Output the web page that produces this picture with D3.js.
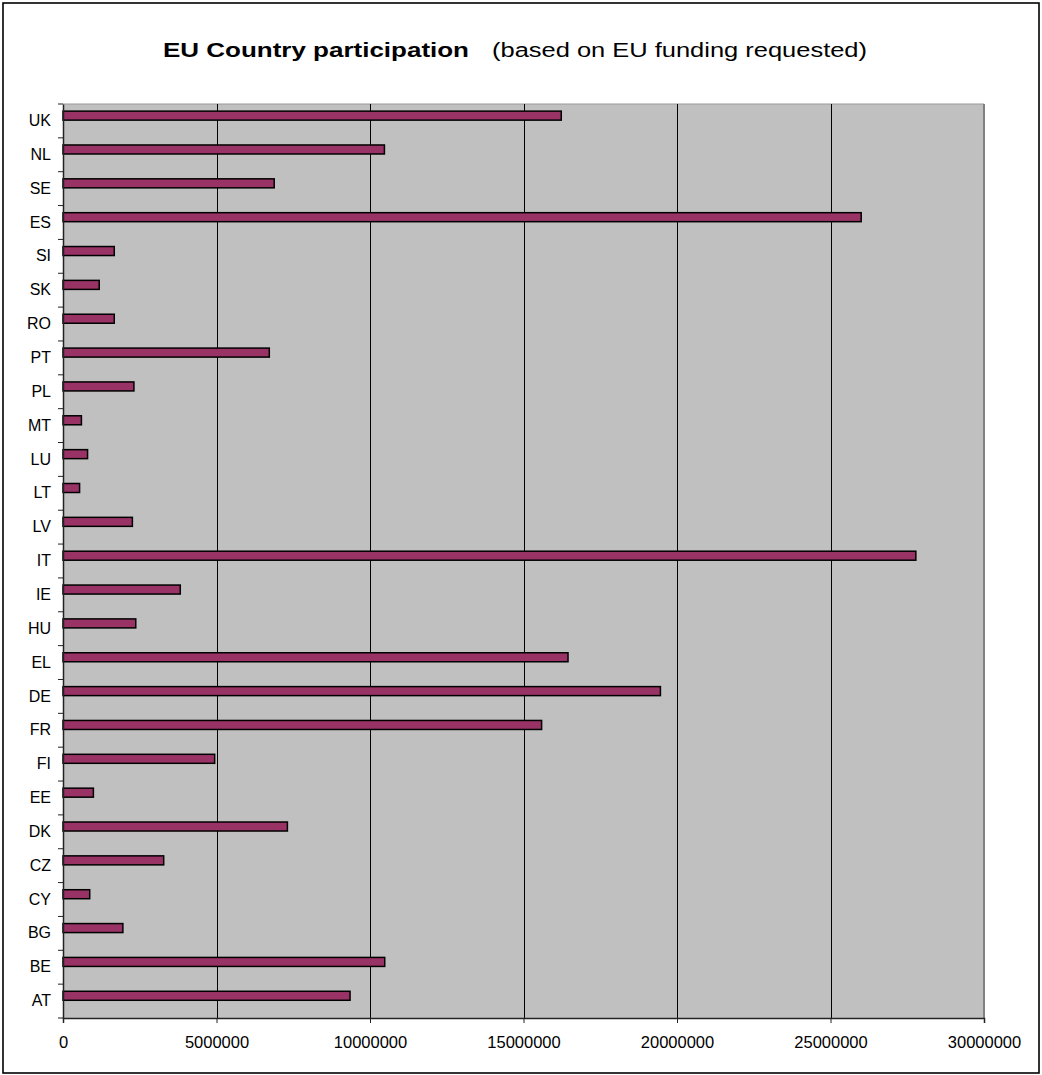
<!DOCTYPE html>
<html>
<head>
<meta charset="utf-8">
<script src="https://cdn.jsdelivr.net/npm/d3@7"></script>
<style>
  html, body { margin: 0; padding: 0; background: #fff; }
  svg { display: block; }
  text { font-family: Arial, "Liberation Sans", sans-serif; fill: #000; }
</style>
</head>
<body>
<svg id="chart" width="1042" height="1075"></svg>
<script>
// Categories listed bottom-to-top (as in the source spreadsheet)
const countries = ["AT","BE","BG","CY","CZ","DK","EE","FI","FR","DE","EL","HU","IE","IT","LV","LT","LU","MT","PL","PT","RO","SK","SI","ES","SE","NL","UK"];
const funding = [9350000,10480000,1950000,870000,3280000,7310000,990000,4940000,15590000,19460000,16450000,2370000,3820000,27780000,2260000,540000,800000,600000,2310000,6720000,1670000,1180000,1670000,26000000,6880000,10470000,16230000];
const xTicks = [0,5000000,10000000,15000000,20000000,25000000,30000000];
const titleMain = "EU Country participation";
const titleSub = "(based on EU funding requested)";

const svg = d3.select("#chart");
const plot = { left: 63, right: 984, top: 104, bottom: 1018 };

// outer chart border
svg.append("rect")
  .attr("x", 3).attr("y", 3).attr("width", 1036).attr("height", 1070)
  .attr("fill", "#fff").attr("stroke", "#000").attr("stroke-width", 1.6);

const x = d3.scaleLinear().domain([0, 30000000]).range([plot.left, plot.right]);
const y = d3.scaleBand().domain(countries.slice().reverse()).range([plot.top, plot.bottom]).padding(0);

// plot background
svg.append("rect")
  .attr("x", plot.left).attr("y", plot.top)
  .attr("width", plot.right - plot.left).attr("height", plot.bottom - plot.top)
  .attr("fill", "#C0C0C0");
// plot border (top light, right darker)
svg.append("line").attr("x1", plot.left).attr("x2", plot.right).attr("y1", plot.top).attr("y2", plot.top)
  .attr("stroke", "#9a9a9a").attr("stroke-width", 1.2);
svg.append("line").attr("x1", plot.right).attr("x2", plot.right).attr("y1", plot.top).attr("y2", plot.bottom)
  .attr("stroke", "#808080").attr("stroke-width", 2);

// gridlines
svg.append("g").selectAll("line")
  .data(xTicks.filter(d => d > 0 && d < 30000000))
  .join("line")
  .attr("x1", d => Math.round(x(d)) + 0.5).attr("x2", d => Math.round(x(d)) + 0.5)
  .attr("y1", plot.top).attr("y2", plot.bottom)
  .attr("stroke", "#000").attr("stroke-width", 1);

// bars
const bw = y.bandwidth();
svg.append("g").selectAll("rect")
  .data(countries.map((c, i) => ({ c, v: funding[i] })))
  .join("rect")
  .attr("x", x(0))
  .attr("y", d => y(d.c) + bw / 2 - 9.8)
  .attr("width", d => x(d.v) - x(0))
  .attr("height", 9)
  .attr("fill", "#993366")
  .attr("stroke", "#000")
  .attr("stroke-width", 1.5);

// x axis
const xAxis = d3.axisBottom(x).tickValues(xTicks).tickSize(5).tickPadding(13).tickFormat(d3.format("d"));
const gx = svg.append("g").attr("transform", `translate(0,${plot.bottom})`).call(xAxis);
gx.select(".domain").attr("stroke", "#222").attr("stroke-width", 1.5);
gx.selectAll(".tick line").attr("stroke", "#222");
gx.selectAll(".tick text").attr("font-size", 16.5).attr("font-family", 'Arial, "Liberation Sans", sans-serif');

// y axis: labels centered in bands, ticks at band boundaries
const yAxis = d3.axisLeft(y).tickSize(0).tickPadding(12);
const gy = svg.append("g").attr("transform", `translate(${plot.left},0)`).call(yAxis);
gy.select(".domain").attr("stroke", "#222").attr("stroke-width", 1.5);
gy.selectAll(".tick text").attr("font-size", 16).attr("font-family", 'Arial, "Liberation Sans", sans-serif');

const boundaries = countries.map(c => y(c)).concat([plot.bottom]);
svg.append("g").selectAll("line")
  .data(boundaries)
  .join("line")
  .attr("x1", plot.left - 5).attr("x2", plot.left)
  .attr("y1", d => d).attr("y2", d => d)
  .attr("stroke", "#222").attr("stroke-width", 1);

// title
svg.append("text")
  .attr("x", 163).attr("y", 57)
  .attr("font-size", 20).attr("font-weight", "bold")
  .attr("textLength", 306).attr("lengthAdjust", "spacingAndGlyphs")
  .text(titleMain);
svg.append("text")
  .attr("x", 492).attr("y", 57)
  .attr("font-size", 20)
  .attr("textLength", 375).attr("lengthAdjust", "spacingAndGlyphs")
  .text(titleSub);
</script>
</body>
</html>
